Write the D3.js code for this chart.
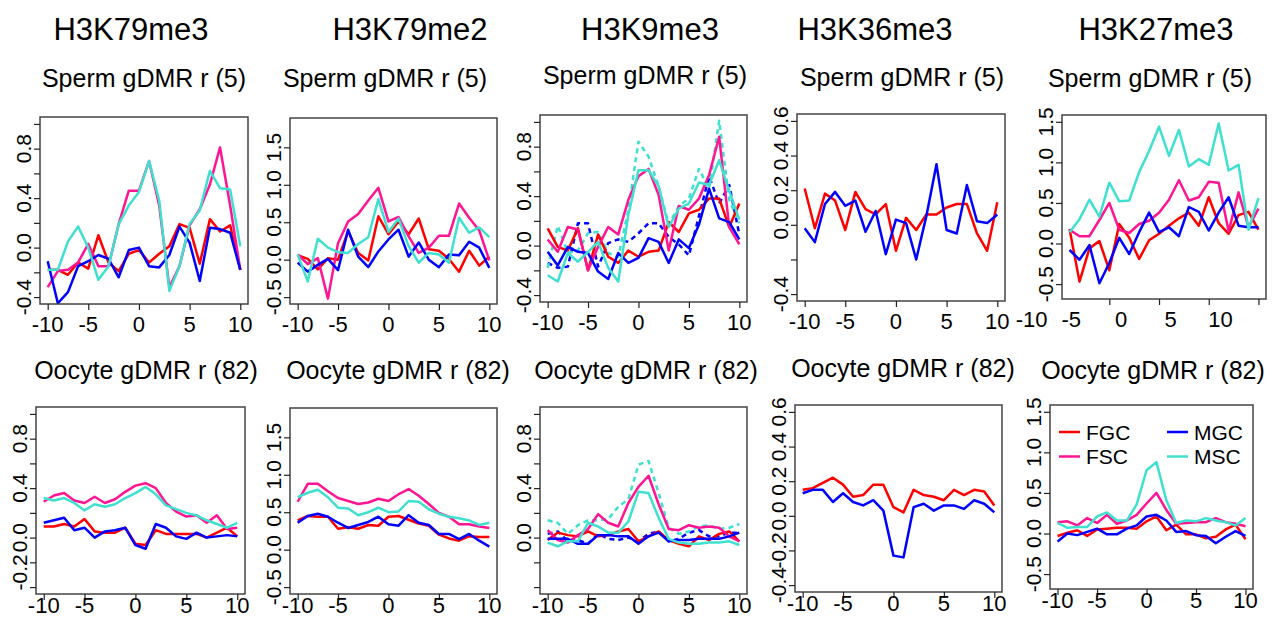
<!DOCTYPE html>
<html>
<head>
<meta charset="utf-8">
<script src="https://cdn.jsdelivr.net/npm/d3@7"></script>
<style>
  body { margin: 0; background: #fff; }
  svg text { font-family: "Liberation Sans", Arial, sans-serif; fill: #000; }
</style>
</head>
<body>
<svg id="chart" width="1274" height="618"></svg>
<script>
// bins around the gDMR (x), tick labels and titles
var bins = [-9, -8, -7, -6, -5, -4, -3, -2, -1, 0, 1, 2, 3, 4, 5, 6, 7, 8, 9, 10];
var xTickVals = [-9, -5, 0, 5, 10];
var xTickText = ["-10", "-5", "0", "5", "10"];
var histones = ["H3K79me3", "H3K79me2", "H3K9me3", "H3K36me3", "H3K27me3"];
var rowTitles = ["Sperm gDMR r (5)", "Oocyte gDMR r (82)"];
var cells = ["FGC", "FSC", "MGC", "MSC"];
var cellColors = ["#ff0000", "#ff1493", "#0000ff", "#40e0d0"];

var ticksA = [-0.4, -0.2, 0, 0.2, 0.4, 0.6, 0.8, 1.0];
var ticksB = [-0.5, 0, 0.5, 1.0, 1.5];
var ticksC = [-0.4, -0.2, 0, 0.2, 0.4, 0.6];

// H3K79me3, sperm gDMR
var k79me3S_FGC = [-0.18, -0.18, -0.22, -0.12, -0.17, 0.10, -0.12, -0.19, -0.05, -0.02, -0.12, -0.05, 0.01, 0.19, 0.16, -0.13, 0.23, 0.13, 0.18, -0.18];
var k79me3S_FSC = [-0.32, -0.19, -0.18, -0.12, 0.03, -0.15, -0.15, 0.19, 0.46, 0.46, 0.70, 0.34, -0.32, -0.15, 0.18, 0.31, 0.51, 0.81, 0.34, -0.18];
var k79me3S_MGC = [-0.11, -0.45, -0.36, -0.15, -0.11, -0.06, -0.09, -0.24, -0.02, 0.00, -0.15, -0.16, -0.06, 0.17, 0.04, -0.27, 0.16, 0.15, 0.12, -0.18];
var k79me3S_MSC = [-0.18, -0.18, 0.05, 0.17, 0.00, -0.26, -0.15, 0.19, 0.34, 0.45, 0.70, 0.38, -0.35, -0.15, 0.19, 0.30, 0.62, 0.48, 0.47, 0.01];

// H3K79me2, sperm gDMR
var k79me2S_FGC = [0.06, 0.01, -0.13, 0.02, 0.00, 0.38, 0.09, -0.01, 0.58, 0.34, 0.51, 0.34, 0.55, 0.14, 0.12, 0.01, -0.16, 0.12, -0.08, 0.04];
var k79me2S_FSC = [0.07, -0.06, 0.02, -0.52, 0.22, 0.51, 0.61, 0.79, 0.96, 0.51, 0.57, 0.31, 0.09, 0.16, 0.32, 0.32, 0.75, 0.56, 0.39, -0.01];
var k79me2S_MGC = [-0.04, -0.16, -0.07, 0.01, -0.14, 0.40, 0.04, -0.10, 0.11, 0.27, 0.40, 0.04, 0.23, 0.00, -0.10, 0.07, 0.06, 0.24, 0.16, -0.11];
var k79me2S_MSC = [0.07, -0.29, 0.28, 0.16, 0.10, 0.09, 0.21, 0.30, 0.81, 0.37, 0.55, 0.18, -0.04, 0.09, 0.07, -0.04, 0.56, 0.36, 0.43, 0.30];

// H3K9me3, sperm gDMR (dashed = second replicate)
var k9me3S_FGC = [0.14, -0.01, -0.04, 0.14, -0.20, 0.09, -0.09, -0.14, -0.04, -0.09, -0.05, -0.04, 0.19, 0.11, 0.26, 0.29, 0.38, 0.38, 0.15, 0.34];
var k9me3S_FSC = [0.05, -0.05, 0.15, 0.13, -0.20, -0.01, 0.15, 0.09, 0.37, 0.56, 0.62, 0.41, -0.04, 0.32, 0.29, 0.38, 0.57, 0.88, 0.15, 0.01];
var k9me3S_MGC = [-0.05, -0.16, -0.01, -0.05, -0.06, -0.21, -0.27, -0.06, -0.14, -0.10, 0.06, 0.03, -0.14, 0.05, -0.02, 0.17, 0.46, 0.22, 0.19, 0.05];
var k9me3S_MSC = [-0.24, -0.29, -0.06, -0.13, -0.05, 0.03, -0.18, -0.29, 0.25, 0.61, 0.61, 0.48, 0.15, 0.30, 0.34, 0.51, 0.49, 0.69, 0.44, 0.21];
var k9me3S_MGC2 = [-0.14, -0.18, -0.17, 0.18, 0.18, -0.17, 0.02, 0.05, 0.03, 0.10, 0.18, 0.18, 0.07, 0.01, -0.08, 0.24, 0.56, 0.34, 0.49, 0.09];
var k9me3S_MSC2 = [-0.18, 0.16, -0.06, -0.04, 0.10, 0.11, -0.06, -0.09, 0.29, 0.84, 0.72, 0.48, 0.17, 0.32, 0.38, 0.62, 0.46, 1.01, 0.37, 0.18];

// H3K36me3, sperm gDMR
var k36me3S_FGC = [0.21, -0.02, 0.18, 0.14, -0.03, 0.19, 0.09, 0.06, 0.12, -0.15, 0.04, -0.03, 0.06, 0.06, 0.10, 0.12, 0.12, -0.05, -0.15, 0.13];
var k36me3S_MGC = [-0.02, -0.10, 0.12, 0.19, 0.11, 0.14, -0.04, 0.08, -0.17, 0.03, 0.01, -0.20, 0.05, 0.35, -0.03, -0.05, 0.23, 0.02, 0.01, 0.06];

// H3K27me3, sperm gDMR
var k27me3S_FGC = [0.18, -0.47, -0.06, 0.03, -0.33, 0.24, 0.07, -0.19, 0.04, 0.12, 0.22, 0.31, 0.38, 0.22, 0.57, 0.25, 0.12, 0.35, 0.39, 0.17];
var k27me3S_FSC = [0.17, 0.09, 0.09, 0.29, 0.50, 0.17, 0.13, 0.24, 0.28, 0.38, 0.54, 0.78, 0.53, 0.57, 0.76, 0.75, 0.15, 0.63, 0.20, 0.43];
var k27me3S_MGC = [-0.08, -0.20, -0.02, -0.49, -0.24, 0.07, -0.13, 0.14, 0.38, 0.14, 0.20, 0.09, 0.45, 0.39, 0.16, 0.38, 0.57, 0.22, 0.20, 0.20];
var k27me3S_MSC = [0.14, 0.30, 0.54, 0.33, 0.75, 0.52, 0.53, 0.88, 1.14, 1.44, 1.08, 1.40, 0.95, 1.04, 0.97, 1.48, 0.90, 0.97, 0.17, 0.56];

// H3K79me3, oocyte gDMR
var k79me3O_FGC = [0.09, 0.09, 0.11, 0.09, 0.15, 0.05, 0.04, 0.04, 0.08, -0.05, -0.06, 0.06, 0.03, 0.03, 0.03, 0.03, 0.00, 0.04, 0.08, 0.01];
var k79me3O_FSC = [0.29, 0.34, 0.36, 0.30, 0.28, 0.33, 0.28, 0.31, 0.37, 0.42, 0.44, 0.40, 0.28, 0.21, 0.17, 0.18, 0.12, 0.18, 0.07, 0.08];
var k79me3O_MGC = [0.12, 0.14, 0.16, 0.06, 0.08, 0.00, 0.05, 0.06, 0.08, -0.06, -0.09, 0.11, 0.08, 0.01, -0.01, 0.04, 0.00, 0.01, 0.02, 0.01];
var k79me3O_MSC = [0.32, 0.30, 0.32, 0.28, 0.22, 0.27, 0.25, 0.27, 0.32, 0.36, 0.41, 0.35, 0.26, 0.23, 0.20, 0.18, 0.14, 0.11, 0.08, 0.12];

// H3K79me2, oocyte gDMR
var k79me2O_FGC = [0.39, 0.45, 0.44, 0.44, 0.28, 0.30, 0.28, 0.33, 0.32, 0.44, 0.45, 0.40, 0.35, 0.32, 0.20, 0.15, 0.12, 0.18, 0.17, 0.17];
var k79me2O_FSC = [0.64, 0.88, 0.88, 0.78, 0.69, 0.65, 0.61, 0.63, 0.68, 0.65, 0.74, 0.81, 0.72, 0.61, 0.49, 0.44, 0.34, 0.34, 0.31, 0.29];
var k79me2O_MGC = [0.36, 0.45, 0.48, 0.44, 0.36, 0.29, 0.33, 0.37, 0.44, 0.34, 0.32, 0.46, 0.36, 0.33, 0.21, 0.21, 0.14, 0.21, 0.12, 0.04];
var k79me2O_MSC = [0.70, 0.76, 0.80, 0.70, 0.56, 0.55, 0.46, 0.50, 0.56, 0.50, 0.51, 0.65, 0.64, 0.54, 0.48, 0.44, 0.42, 0.39, 0.33, 0.36];

// H3K9me3, oocyte gDMR (dashed = second replicate)
var k9me3O_FGC = [-0.02, 0.04, 0.02, 0.01, 0.05, 0.01, 0.02, 0.05, 0.07, -0.03, 0.01, 0.05, -0.02, -0.05, -0.07, 0.01, -0.02, 0.03, 0.05, -0.03];
var k9me3O_FSC = [0.06, -0.02, -0.04, 0.02, 0.07, 0.19, 0.12, 0.09, 0.28, 0.41, 0.50, 0.27, 0.07, 0.06, 0.10, 0.08, 0.09, 0.08, 0.01, -0.03];
var k9me3O_MGC = [-0.01, -0.01, -0.01, -0.05, -0.05, 0.02, 0.02, 0.01, 0.01, -0.05, 0.01, 0.04, -0.03, -0.02, -0.02, -0.01, -0.01, -0.01, 0.01, 0.04];
var k9me3O_MSC = [-0.04, -0.07, -0.03, -0.03, 0.12, 0.09, 0.04, 0.04, 0.13, 0.37, 0.36, 0.16, -0.01, -0.04, -0.05, -0.05, -0.04, -0.04, -0.03, -0.06];
var k9me3O_MGC2 = [0.03, 0.05, -0.03, -0.02, -0.05, 0.03, -0.01, -0.02, 0.00, -0.03, 0.03, 0.05, -0.03, -0.01, 0.04, 0.06, 0.01, 0.01, 0.04, 0.04];
var k9me3O_MSC2 = [0.14, 0.12, 0.03, 0.10, 0.14, 0.14, 0.15, 0.25, 0.31, 0.59, 0.62, 0.36, 0.08, 0.03, 0.05, 0.09, 0.10, 0.07, 0.08, 0.11];

// H3K36me3, oocyte gDMR
var k36me3O_FGC = [0.15, 0.16, 0.19, 0.22, 0.18, 0.11, 0.12, 0.18, 0.18, 0.05, 0.02, 0.15, 0.12, 0.11, 0.09, 0.15, 0.12, 0.15, 0.14, 0.06];
var k36me3O_MGC = [0.13, 0.15, 0.15, 0.08, 0.13, 0.08, 0.06, 0.09, 0.03, -0.23, -0.24, 0.05, 0.07, 0.03, 0.06, 0.06, 0.04, 0.09, 0.07, 0.02];

// H3K27me3, oocyte gDMR
var k27me3O_FGC = [-0.03, 0.01, 0.04, -0.03, 0.05, 0.06, 0.07, 0.07, 0.06, 0.15, 0.21, 0.04, 0.11, -0.01, -0.01, -0.06, -0.04, 0.05, 0.11, -0.07];
var k27me3O_FSC = [0.14, 0.15, 0.10, 0.19, 0.13, 0.23, 0.12, 0.16, 0.23, 0.37, 0.50, 0.29, 0.12, 0.13, 0.14, 0.14, 0.19, 0.14, 0.12, 0.09];
var k27me3O_MGC = [-0.10, 0.00, -0.02, 0.02, 0.06, -0.01, -0.01, 0.06, 0.10, 0.21, 0.23, 0.16, 0.02, 0.03, -0.02, -0.03, -0.12, -0.04, 0.03, -0.03];
var k27me3O_MSC = [0.13, 0.07, 0.08, 0.08, 0.21, 0.26, 0.16, 0.16, 0.36, 0.78, 0.88, 0.41, 0.13, 0.16, 0.15, 0.19, 0.16, 0.14, 0.10, 0.19];

function s(cell, values, dashed) { return { cell: cell, values: values, dashed: !!dashed }; }

var panels = [
  { row: 0, col: 0, ylim: [-0.4, 1.0], yTicks: ticksA, yLabels: [-0.4, 0, 0.4, 0.8],
    series: [s("FGC", k79me3S_FGC), s("FSC", k79me3S_FSC), s("MGC", k79me3S_MGC), s("MSC", k79me3S_MSC)] },
  { row: 0, col: 1, ylim: [-0.5, 1.8], yTicks: ticksB, yLabels: ticksB,
    series: [s("FGC", k79me2S_FGC), s("FSC", k79me2S_FSC), s("MGC", k79me2S_MGC), s("MSC", k79me2S_MSC)] },
  { row: 0, col: 2, ylim: [-0.4, 1.0], yTicks: ticksA, yLabels: [-0.4, 0, 0.4, 0.8],
    series: [s("MGC", k9me3S_MGC2, 1), s("MSC", k9me3S_MSC2, 1), s("FGC", k9me3S_FGC), s("FSC", k9me3S_FSC), s("MGC", k9me3S_MGC), s("MSC", k9me3S_MSC)] },
  { row: 0, col: 3, ylim: [-0.4, 0.6], yTicks: ticksC, yLabels: [-0.4, 0, 0.2, 0.4, 0.6],
    series: [s("FGC", k36me3S_FGC), s("MGC", k36me3S_MGC)] },
  { row: 0, col: 4, ylim: [-0.6, 1.5], yTicks: ticksB, yLabels: ticksB, xTicks: [-5, 0, 5, 10],
    series: [s("FGC", k27me3S_FGC), s("FSC", k27me3S_FSC), s("MGC", k27me3S_MGC), s("MSC", k27me3S_MSC)] },
  { row: 1, col: 0, ylim: [-0.4, 1.0], yTicks: ticksA, yLabels: [-0.2, 0, 0.4, 0.8],
    series: [s("FGC", k79me3O_FGC), s("FSC", k79me3O_FSC), s("MGC", k79me3O_MGC), s("MSC", k79me3O_MSC)] },
  { row: 1, col: 1, ylim: [-0.5, 1.8], yTicks: ticksB, yLabels: ticksB,
    series: [s("FGC", k79me2O_FGC), s("FSC", k79me2O_FSC), s("MGC", k79me2O_MGC), s("MSC", k79me2O_MSC)] },
  { row: 1, col: 2, ylim: [-0.4, 1.0], yTicks: ticksA, yLabels: [0, 0.4, 0.8],
    series: [s("MGC", k9me3O_MGC2, 1), s("MSC", k9me3O_MSC2, 1), s("FGC", k9me3O_FGC), s("FSC", k9me3O_FSC), s("MGC", k9me3O_MGC), s("MSC", k9me3O_MSC)] },
  { row: 1, col: 3, ylim: [-0.4, 0.6], yTicks: ticksC, yLabels: ticksC,
    series: [s("FGC", k36me3O_FGC), s("MGC", k36me3O_MGC)] },
  { row: 1, col: 4, ylim: [-0.6, 1.5], yTicks: ticksB, yLabels: ticksB, legend: true,
    series: [s("FGC", k27me3O_FGC), s("FSC", k27me3O_FSC), s("MGC", k27me3O_MGC), s("MSC", k27me3O_MSC)] }
];

// plot boxes [left, top, right, bottom] in page pixels
var boxes = [
  [40, 117, 248, 304], [290, 118, 497, 304], [540, 115, 747, 302], [797, 114, 1005, 301], [1062, 115, 1266, 299],
  [36, 407, 245, 594], [290, 408, 497, 594], [540, 407, 747, 594], [795, 405, 1002, 592], [1050, 405, 1253, 589]
];
var titleX = [131, 410, 650, 875, 1156];
var subX = [[144, 385, 645, 902, 1150], [146, 398, 646, 903, 1153]];
var subY = [[87, 87, 84, 86, 87], [379, 379, 379, 377, 379]];
var xLabelGap = [28, 19];

var color = d3.scaleOrdinal(cells, cellColors);
var svg = d3.select("#chart");

// column titles
svg.selectAll("text.title").data(histones).enter().append("text")
  .attr("class", "title")
  .attr("x", function(d, i) { return titleX[i]; })
  .attr("y", 40)
  .attr("text-anchor", "middle")
  .style("font-size", "31px")
  .text(function(d) { return d; });

function fmt(v) {
  return d3.format(".1f")(v).replace("−", "-");
}

panels.forEach(function(p, k) {
  var b = boxes[k];
  var pad = (p.ylim[1] - p.ylim[0]) * 0.04;
  var xpad = (bins[bins.length - 1] - bins[0]) * 0.04;
  var x = d3.scaleLinear().domain([bins[0] - xpad, bins[bins.length - 1] + xpad]).range([b[0], b[2]]);
  var y = d3.scaleLinear().domain([p.ylim[0] - pad, p.ylim[1] + pad]).range([b[3], b[1]]);

  var g = svg.append("g");

  g.append("text")
    .attr("x", subX[p.row][p.col])
    .attr("y", subY[p.row][p.col])
    .attr("text-anchor", "middle")
    .style("font-size", "25px")
    .text(rowTitles[p.row]);

  var clipId = "clip" + k;
  g.append("clipPath").attr("id", clipId).append("rect")
    .attr("x", b[0]).attr("y", b[1]).attr("width", b[2] - b[0]).attr("height", b[3] - b[1]);

  var line = d3.line()
    .x(function(d, i) { return x(bins[i]); })
    .y(function(d) { return y(d); });

  g.append("g").attr("clip-path", "url(#" + clipId + ")")
    .selectAll("path").data(p.series).enter().append("path")
    .attr("d", function(d) { return line(d.values); })
    .attr("fill", "none")
    .attr("stroke", function(d) { return color(d.cell); })
    .attr("stroke-width", 2.5)
    .attr("stroke-linejoin", "round")
    .attr("stroke-dasharray", function(d) { return d.dashed ? "5,4" : null; });

  // box
  g.append("rect")
    .attr("x", b[0]).attr("y", b[1]).attr("width", b[2] - b[0]).attr("height", b[3] - b[1])
    .attr("fill", "none").attr("stroke", "#444").attr("stroke-width", 1.5);

  // y axis
  var ya = d3.axisLeft(y).tickValues(p.yTicks).tickSize(6).tickFormat("");
  var yg = g.append("g").attr("transform", "translate(" + b[0] + ",0)").call(ya);
  yg.select(".domain").remove();
  yg.selectAll(".tick line").attr("stroke", "#222").attr("stroke-width", 1.2);
  g.selectAll("text.ylab").data(p.yLabels).enter().append("text")
    .attr("transform", function(d) {
      var nudge = (p.row === 1 && p.col === 0 && d < 0) ? 10 : 0;
      return "translate(" + (b[0] - 9) + "," + (y(d) + nudge) + ") rotate(-90)";
    })
    .attr("text-anchor", "middle")
    .style("font-size", "21px")
    .text(fmt);

  // x axis
  var xt = p.xTicks || xTickVals;
  var xa = d3.axisBottom(x).tickValues(xt).tickSize(6).tickFormat("");
  var xg = g.append("g").attr("transform", "translate(0," + b[3] + ")").call(xa);
  xg.select(".domain").remove();
  xg.selectAll(".tick line").attr("stroke", "#222").attr("stroke-width", 1.2);
  var shift = p.xTicks ? -38 : 0;
  g.selectAll("text.xlab").data(xTickVals).enter().append("text")
    .attr("x", function(d) { return x(d) + shift; })
    .attr("y", b[3] + xLabelGap[p.row])
    .attr("text-anchor", "middle")
    .style("font-size", "22px")
    .text(function(d, i) { return xTickText[i]; });

  if (p.legend) {
    var entries = g.append("g").selectAll("g").data(cells).enter().append("g")
      .attr("transform", function(d, i) {
        var cx = b[0] + 9 + Math.floor(i / 2) * 108;
        var cy = b[1] + 27 + (i % 2) * 24.5;
        return "translate(" + cx + "," + cy + ")";
      });
    entries.append("line").attr("x1", 0).attr("x2", 21).attr("y1", 0).attr("y2", 0)
      .attr("stroke", function(d) { return color(d); }).attr("stroke-width", 2.5);
    entries.append("text").attr("x", 27).attr("y", 7.5)
      .style("font-size", "21px")
      .text(function(d) { return d; });
  }
});
</script>
</body>
</html>
